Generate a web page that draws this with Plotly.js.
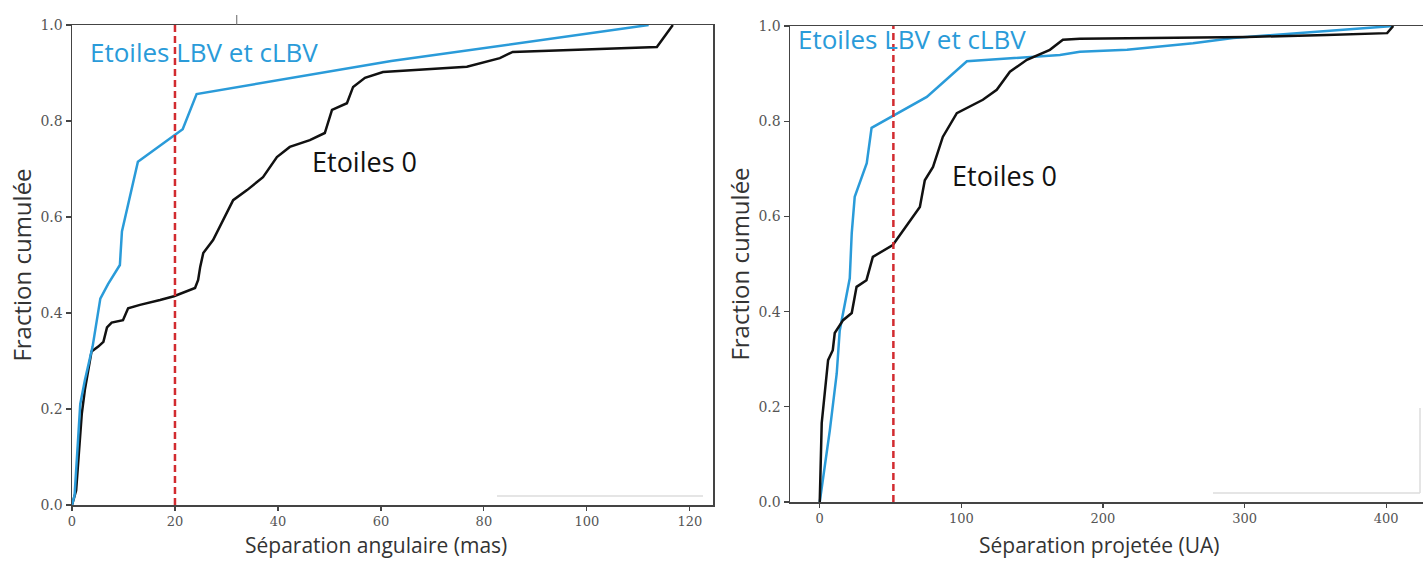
<!DOCTYPE html>
<html>
<head>
<meta charset="utf-8">
<script src="https://cdn.plot.ly/plotly-3.0.1.min.js"></script>
<style>
  html, body { margin: 0; padding: 0; background: #fff; }
  #chart { width: 1423px; height: 562px; }
</style>
</head>
<body>
<div id="chart"></div>
<script>
// ---- Data ----
// Left panel: angular separation (mas)
const angLbvX = [0, 0.5, 1.2, 1.6, 2.5, 4.0, 5.5, 7.0, 9.3, 9.7, 12.8, 21.5, 24.2, 62, 112];
const angLbvY = [0, 0.02, 0.14, 0.21, 0.26, 0.33, 0.43, 0.46, 0.50, 0.57, 0.715, 0.783, 0.856, 0.925, 1.0];

const angOX = [0, 0.8, 1.9, 2.5, 3.8, 5.1, 6.1, 6.8, 7.7, 9.9, 10.9, 13.2, 17.1, 19.8, 23.9, 24.5,
  24.9, 25.5, 27.4, 28.7, 31.3, 34.0, 37.1, 39.8, 42.3, 46.2, 49.1, 50.5, 53.4, 54.6, 56.9,
  60.4, 76.7, 83.1, 85.6, 113.6, 116.7];
const angOY = [0, 0.03, 0.19, 0.24, 0.32, 0.33, 0.34, 0.37, 0.38, 0.385, 0.41, 0.417, 0.427, 0.435, 0.452, 0.469,
  0.496, 0.525, 0.552, 0.58, 0.635, 0.656, 0.683, 0.725, 0.746, 0.76, 0.775, 0.823, 0.837, 0.871, 0.89,
  0.902, 0.913, 0.931, 0.944, 0.954, 1.0];

// Right panel: projected separation (UA)
const projLbvX = [0, 7.1, 12.0, 14.1, 21.2, 22.6, 24.7, 33.2, 36.6, 75.6, 103.9, 169.6, 183.7, 217, 263.6, 292, 405];
const projLbvY = [0, 0.15, 0.27, 0.36, 0.47, 0.565, 0.641, 0.712, 0.786, 0.851, 0.926, 0.939, 0.946, 0.95, 0.964, 0.975, 1.0];

const projOX = [0, 1.4, 5.9, 9.2, 10.6, 16.5, 22.6, 26.0, 33.0, 37.5, 51.6, 63.6, 70.7, 74.2, 80.0, 86.9, 96.8,
  115.2, 125.0, 134.3, 146.3, 162.5, 171.7, 183.7, 301.8, 358, 400.7, 405];
const projOY = [0, 0.166, 0.298, 0.319, 0.355, 0.382, 0.397, 0.452, 0.466, 0.515, 0.54, 0.592, 0.62, 0.676, 0.704, 0.767, 0.817,
  0.845, 0.866, 0.904, 0.929, 0.95, 0.971, 0.973, 0.977, 0.981, 0.985, 1.0];

const leftTicks = [0, 20, 40, 60, 80, 100, 120];
const rightTicks = [0, 100, 200, 300, 400];
const yTicks = [0, 0.2, 0.4, 0.6, 0.8, 1.0];
const thresholdLeft = 20;
const thresholdRight = 52;

const labelLbv = 'Etoiles LBV et cLBV';
const labelO = 'Etoiles 0';
const yTitle = 'Fraction cumulée';
const xTitleLeft = 'Séparation angulaire (mas)';
const xTitleRight = 'Séparation projetée (UA)';

// ---- Styles ----
const BLUE = '#2a9bd9';
const BLACK = '#111111';
const RED = '#d22b30';
const AXIS = '#444444';
const sans = '"Open Sans", "Noto Sans", sans-serif';
const serif = '"DejaVu Serif", serif';

const traces = [
  { x: angOX, y: angOY, xaxis: 'x', yaxis: 'y', mode: 'lines', name: labelO,
    line: { color: BLACK, width: 2.5 } },
  { x: angLbvX, y: angLbvY, xaxis: 'x', yaxis: 'y', mode: 'lines', name: labelLbv,
    line: { color: BLUE, width: 2.5 } },
  { x: projLbvX, y: projLbvY, xaxis: 'x2', yaxis: 'y2', mode: 'lines', name: labelLbv,
    line: { color: BLUE, width: 2.5 } },
  { x: projOX, y: projOY, xaxis: 'x2', yaxis: 'y2', mode: 'lines', name: labelO,
    line: { color: BLACK, width: 2.5 } }
];

function axisCommon() {
  return {
    showgrid: false, zeroline: false, showline: true, linecolor: AXIS, linewidth: 1.5,
    ticks: 'outside', ticklen: 5, tickwidth: 1.2, tickcolor: AXIS,
    tickfont: { family: serif, size: 14, color: '#555' }
  };
}

const xTickFont = { family: serif, size: 13, color: '#555' };

const layout = {
  width: 1423, height: 562,
  margin: { l: 0, r: 0, t: 0, b: 0 },
  paper_bgcolor: '#ffffff', plot_bgcolor: '#ffffff',
  showlegend: false,
  xaxis: Object.assign(axisCommon(), {
    domain: [72 / 1423, 713 / 1423], range: [0, 124.5], anchor: 'y',
    tickvals: leftTicks, mirror: true, tickfont: xTickFont, ticklen: 4
  }),
  yaxis: Object.assign(axisCommon(), {
    domain: [(562 - 505) / 562, (562 - 25) / 562], range: [0, 1], anchor: 'x',
    tickvals: yTicks, tickformat: '.1f', mirror: true,
    title: { text: yTitle, font: { family: sans, size: 24, color: '#333' }, standoff: 2 }
  }),
  xaxis2: Object.assign(axisCommon(), {
    domain: [790 / 1423, 1], range: [-21, 426], anchor: 'y2',
    tickvals: rightTicks, mirror: true, tickfont: xTickFont, ticklen: 4
  }),
  yaxis2: Object.assign(axisCommon(), {
    domain: [(562 - 502) / 562, (562 - 26) / 562], range: [0, 1], anchor: 'x2',
    tickvals: yTicks, tickformat: '.1f', mirror: false,
    title: { text: yTitle, font: { family: sans, size: 24, color: '#333' }, standoff: 2 }
  }),
  shapes: [
    { type: 'line', xref: 'x', yref: 'y', x0: thresholdLeft, x1: thresholdLeft, y0: 0, y1: 1,
      line: { color: RED, width: 2.5, dash: '7px,4px' } },
    { type: 'line', xref: 'x2', yref: 'y2', x0: thresholdRight, x1: thresholdRight, y0: 0, y1: 1,
      line: { color: RED, width: 2.5, dash: '7px,4px' } },
    // small stray tick above left panel
    { type: 'line', xref: 'x', yref: 'paper', x0: 32, x1: 32, y0: (562 - 25) / 562, y1: (562 - 15) / 562,
      line: { color: '#666', width: 1 } },
    // faint remnants of legend boxes
    { type: 'line', xref: 'paper', yref: 'paper', x0: 497 / 1423, x1: 703 / 1423, y0: (562 - 496) / 562, y1: (562 - 496) / 562,
      line: { color: '#dcdcdc', width: 1.5 } },
    { type: 'line', xref: 'paper', yref: 'paper', x0: 1213 / 1423, x1: 1420 / 1423, y0: (562 - 493) / 562, y1: (562 - 493) / 562,
      line: { color: '#dcdcdc', width: 1.5 } },
    { type: 'line', xref: 'paper', yref: 'paper', x0: 1420 / 1423, x1: 1420 / 1423, y0: (562 - 493) / 562, y1: (562 - 408) / 562,
      line: { color: '#dcdcdc', width: 1.5 } }
  ],
  annotations: [
    // x-axis titles
    { xref: 'paper', yref: 'paper', x: 376 / 1423, y: 1 / 562, xanchor: 'center', yanchor: 'bottom',
      text: xTitleLeft, showarrow: false, font: { family: sans, size: 21, color: '#333' } },
    { xref: 'paper', yref: 'paper', x: 1099 / 1423, y: 1 / 562, xanchor: 'center', yanchor: 'bottom',
      text: xTitleRight, showarrow: false, font: { family: sans, size: 21, color: '#333' } },
    // series labels
    { xref: 'paper', yref: 'paper', x: 88 / 1423, y: (562 - 52) / 562, xanchor: 'left', yanchor: 'middle',
      text: labelLbv, showarrow: false, font: { family: sans, size: 26, color: BLUE } },
    { xref: 'paper', yref: 'paper', x: 310 / 1423, y: (562 - 162) / 562, xanchor: 'left', yanchor: 'middle',
      text: labelO, showarrow: false, font: { family: sans, size: 27, color: BLACK } },
    { xref: 'paper', yref: 'paper', x: 796 / 1423, y: (562 - 39) / 562, xanchor: 'left', yanchor: 'middle',
      text: labelLbv, showarrow: false, font: { family: sans, size: 26, color: BLUE } },
    { xref: 'paper', yref: 'paper', x: 950 / 1423, y: (562 - 175) / 562, xanchor: 'left', yanchor: 'middle',
      text: labelO, showarrow: false, font: { family: sans, size: 27, color: BLACK } }
  ]
};

Plotly.newPlot('chart', traces, layout, { displayModeBar: false, staticPlot: true });
</script>
</body>
</html>
